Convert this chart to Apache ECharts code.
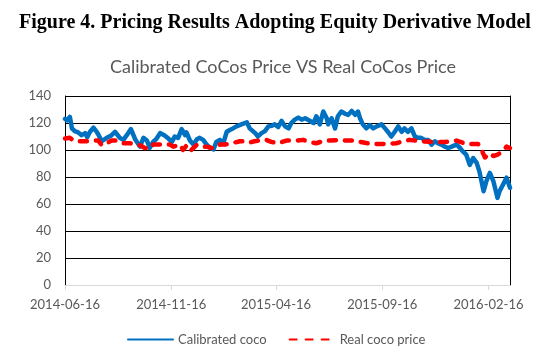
<!DOCTYPE html>
<html>
<head>
<meta charset="utf-8">
<script src="https://cdn.jsdelivr.net/npm/echarts@6/dist/echarts.min.js"></script>
<style>html,body{margin:0;padding:0;background:#fff;}#c{width:547px;height:357px;}</style>
</head>
<body>
<div id="c"></div>
<script>
// x values are days since 2014-06-16
var tickDays = [0, 153, 304, 457, 610];
var tickLabels = ['2014-06-16', '2014-11-16', '2015-04-16', '2015-09-16', '2016-02-16'];

var calibratedDays = [
  0,3,7,10,14,19,24,29,32,36,
  41,45,48,53,60,66,72,79,84,89,
  95,101,108,113,118,122,127,132,137,143,
  149,154,158,163,168,173,175,180,185,190,
  194,199,204,209,214,218,223,228,233,238,
  242,247,254,262,266,274,278,283,288,293,
  298,302,307,312,317,322,326,331,336,341,
  346,353,358,362,367,372,377,379,384,389,
  393,398,403,408,413,418,422,425,429,434,
  439,444,449,456,461,465,470,475,480,485,
  489,494,499,504,509,513,518,523,528,533,
  537,542,547,552,557,564,569,573,578,583,
  588,593,597,603,607,612,617,623,626,631,
  636,641
];
var calibratedCoco = [
  123,122,124.5,116,114,113,111,112.5,109.5,113.5,
  116.5,114,111.5,106.5,109,110.5,113.5,109,107.5,111,
  115.5,108,102.5,109,107,101.5,106,108.5,112.5,111,
  108.5,106,110,109,115.5,111,113,107,104,108,
  109,107.5,104,101.5,100.5,106,107.5,105,113.5,115,
  116,117.5,119,120.5,116,112.5,110,112.5,114,117.5,
  118,119,117,121.5,117.5,116,120,122.5,124,122.5,
  123.5,121.5,120,125,119,128.5,123.5,119,123.5,116,
  125,128.5,127,126,129,126,128.5,123.5,119,116,
  118.5,116,117.5,119,116,113.5,110,113.5,117.5,113.5,
  116,113.5,116,110,109,109,107.5,107.5,104,106.5,
  105,104,102.5,101.5,102.5,104,101.5,99,96.5,89,
  94,90.5,84,69.5,77,83,77,64.5,69.5,74.5,
  79.5,72
];

var realDays = [
  0,7,14,32,38,48,53,60,67,74,
  82,94,101,108,115,122,127,142,151,156,
  166,170,176,182,190,199,204,211,216,223,
  230,240,252,261,266,273,290,297,307,319,
  333,343,352,362,374,381,396,405,415,425,
  441,458,477,496,513,530,547,564,578,595,
  600,605,612,617,623,629,636,641
];
var realCocoPrice = [
  108.5,109,106.5,106.5,107,107,103.5,105,107,107,
  105,105,104,103.5,101.5,101,104,104,104,102.5,
  104,100,104,100,104,102.5,102.5,101.5,101.5,104,
  104,105,106.5,106.5,105.5,106.5,107.5,106,105,107,
  107,107.5,106,105,107,107,107.5,107,107,106,
  104.5,104.5,105,107.5,106.5,106,106,107,104.5,104.5,
  100,94.5,97.5,95.5,96.5,98.5,102.5,101.5
];

function pairs(xs, ys) {
  var out = [];
  for (var i = 0; i < Math.min(xs.length, ys.length); i++) out.push([xs[i], ys[i]]);
  return out;
}

var chart = echarts.init(document.getElementById('c'), null, {renderer: 'canvas'});
var sans = 'Lato';
chart.setOption({
  animation: false,
  backgroundColor: '#ffffff',
  graphic: [
    {type: 'text', x: 275, y: 23, style: {text: 'Figure 4. Pricing Results Adopting Equity Derivative Model',
      fontFamily: '"Liberation Serif", "Times New Roman", serif', fontWeight: 'bold', fontSize: 20,
      fill: '#000', align: 'center', verticalAlign: 'middle'}},
    {type: 'text', x: 283, y: 67, style: {text: 'Calibrated CoCos Price VS Real CoCos Price',
      fontFamily: sans, fontSize: 18, fill: '#595959', align: 'center', verticalAlign: 'middle'}}
  ],
  grid: {left: 65, right: 37, top: 96, bottom: 72, containLabel: false},
  legend: {
    left: 122, top: 328, itemWidth: 45, itemHeight: 14, itemGap: 22,
    itemStyle: {opacity: 0},
    textStyle: {fontFamily: sans, fontSize: 13, color: '#595959'},
    data: ['Calibrated coco', 'Real coco price']
  },
  xAxis: {
    type: 'value', min: 0, max: 641, z: 1,
    splitLine: {show: false},
    axisLine: {show: true, lineStyle: {color: '#d9d9d9', width: 1}},
    axisTick: {show: true, length: 5, lineStyle: {color: '#d9d9d9'}, customValues: tickDays},
    axisLabel: {customValues: tickDays, margin: 13, fontFamily: sans, fontSize: 13, color: '#595959',
      formatter: function (v) { var i = tickDays.indexOf(v); return i >= 0 ? tickLabels[i] : ''; }}
  },
  yAxis: [{
    type: 'value', min: 0, max: 140, interval: 20,
    axisLine: {show: true, lineStyle: {color: '#000', width: 1}},
    axisTick: {show: false},
    splitLine: {show: true, lineStyle: {color: '#000', width: 1}},
    axisLabel: {margin: 14, fontFamily: sans, fontSize: 13, color: '#595959'}
  }, {
    type: 'value', min: 0, max: 140, interval: 20, position: 'right',
    axisLine: {show: true, lineStyle: {color: '#000', width: 1}},
    axisTick: {show: false}, splitLine: {show: false}, axisLabel: {show: false}
  }],
  series: [{
    name: 'Calibrated coco', type: 'line', data: pairs(calibratedDays, calibratedCoco),
    showSymbol: false, symbol: 'none', z: 3,
    lineStyle: {color: '#0070C0', width: 4.5, cap: 'round', join: 'round'},
    itemStyle: {color: '#0070C0'}
  }, {
    name: 'Real coco price', type: 'line', data: pairs(realDays, realCocoPrice),
    showSymbol: false, symbol: 'none', z: 4,
    lineStyle: {color: '#FF0000', width: 4.5, type: [7, 9], cap: 'round', join: 'round'},
    itemStyle: {color: '#FF0000'}
  }]
});
</script>
</body>
</html>
